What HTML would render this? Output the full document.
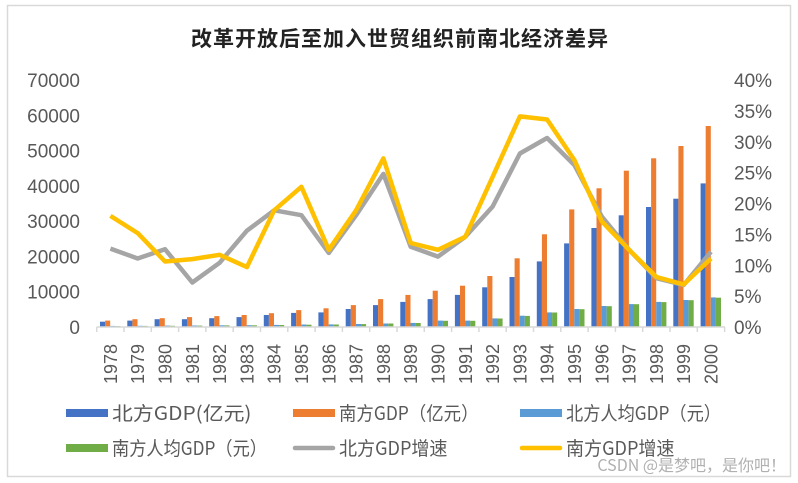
<!DOCTYPE html>
<html><head><meta charset="utf-8"><style>
html,body{margin:0;padding:0;background:#fff}
svg{display:block;font-family:"Liberation Sans","Noto Sans CJK SC",sans-serif}
</style></head><body>
<svg id="s" width="798" height="483" xmlns="http://www.w3.org/2000/svg">
<rect x="7.5" y="5.5" width="783" height="471" fill="#fff" stroke="#d9d9d9" stroke-width="1.5"/>
<text x="400" y="46" text-anchor="middle" font-size="21" font-weight="bold" fill="#222" font-family="'Noto Sans CJK SC',sans-serif" letter-spacing="1">改革开放后至加入世贸组织前南北经济差异</text>
<g id="g"></g>
</svg>
<script>
var g=document.getElementById('g'),h='';
var y0=327,sc=247/70000,rp=247/40;
var L=96.7,W=27.3;
var blue=[1500,1800,2200,2200,2500,2800,3400,4000,4150,5100,6200,7100,7900,9100,11250,14170,18600,23700,28050,31650,34000,36350,40700];
var ora=[1800,2200,2500,2800,3100,3400,3900,4800,5300,6200,7900,9100,10300,11700,14450,19470,26260,33340,39300,44300,47800,51300,56960];
var lb=[300,350,400,430,470,520,600,700,750,850,1000,1150,1800,1800,2450,3200,4150,5100,5950,6500,7100,7650,8400];
var gr=[250,300,350,400,440,480,560,650,720,820,980,1120,1750,1750,2400,3150,4100,5050,5900,6450,7050,7600,8300];
var ys=[18.0,15.2,10.6,11.0,11.7,9.7,18.9,22.7,12.5,18.9,27.3,13.6,12.5,14.6,24.3,34.1,33.6,27.0,17.1,12.5,8.1,6.9,11.1];
var gs=[12.7,11.1,12.6,7.2,10.4,15.6,18.9,18.1,12.0,18.1,24.8,13.0,11.4,14.6,19.5,28.1,30.6,26.2,17.9,12.5,7.9,6.8,12.2];
for(var i=0;i<8;i++){var v=i*10000,y=y0-v*sc;h+='<text x="80" y="'+(y+7)+'" text-anchor="end" font-size="19" fill="#595959">'+v+'</text>';}
for(var i=0;i<9;i++){var y=y0-i*5*rp;h+='<text x="734" y="'+(y+7)+'" font-size="19" fill="#595959">'+(i*5)+'%</text>';}
var cols=['#4472c4','#ed7d31','#5b9bd5','#70ad47'],ds=[blue,ora,lb,gr];
for(var i=0;i<23;i++){var x=L+i*W;
 for(var k=0;k<4;k++){var v=ds[k][i],hh=v*sc;h+='<rect x="'+(x+3.3+k*5.1).toFixed(1)+'" y="'+(y0-hh).toFixed(1)+'" width="5.1" height="'+hh.toFixed(1)+'" fill="'+cols[k]+'"/>';}
 var cx=x+W/2;h+='<text transform="translate('+(cx+6.5)+',384) rotate(-90)" font-size="18" fill="#595959">'+(1978+i)+'</text>';
}
h+='<line x1="'+L+'" y1="'+y0+'" x2="725" y2="'+y0+'" stroke="#d9d9d9" stroke-width="1.5"/>';
for(var i=0;i<=23;i++){var x=L+i*W;h+='<line x1="'+x+'" y1="'+y0+'" x2="'+x+'" y2="'+(y0+5)+'" stroke="#d9d9d9" stroke-width="1.5"/>';}
function pl(a,c){var p=a.map(function(v,i){return (L+W/2+i*W).toFixed(1)+','+(y0-v*rp).toFixed(1)}).join(' ');return '<polyline points="'+p+'" fill="none" stroke="'+c+'" stroke-width="4.5" stroke-linejoin="round"/>';}
h+=pl(gs,'#a5a5a5')+pl(ys,'#ffc000');
var lg=[[66,413,'#4472c4','北方GDP(亿元)',0],[293,413,'#ed7d31','南方GDP（亿元）',0],[520,413,'#5b9bd5','北方人均GDP（元）',0],[66,448,'#70ad47','南方人均GDP（元）',0],[293,448,'#a5a5a5','北方GDP增速',1],[520,448,'#ffc000','南方GDP增速',1]];
lg.forEach(function(l){
 if(l[4])h+='<line x1="'+(l[0]+2)+'" y1="'+l[1]+'" x2="'+(l[0]+40)+'" y2="'+l[1]+'" stroke="'+l[2]+'" stroke-width="4.5" stroke-linecap="round"/>';
 else h+='<rect x="'+l[0]+'" y="'+(l[1]-4)+'" width="42" height="8" fill="'+l[2]+'"/>';
 h+='<text x="'+(l[0]+46)+'" y="'+(l[1]+7)+'" font-size="19" fill="#595959" font-family="\'Noto Sans CJK SC\',sans-serif" textLength="'+(l[3].length*15.5)+'" lengthAdjust="spacingAndGlyphs">'+l[3]+'</text>';
});
h+='<text x="786" y="471" text-anchor="end" font-size="16" fill="#b0b0b0" font-family="\'Noto Sans CJK SC\',sans-serif">CSDN @是梦吧，是你吧！</text>';
g.innerHTML=h;
</script>
</body></html>
